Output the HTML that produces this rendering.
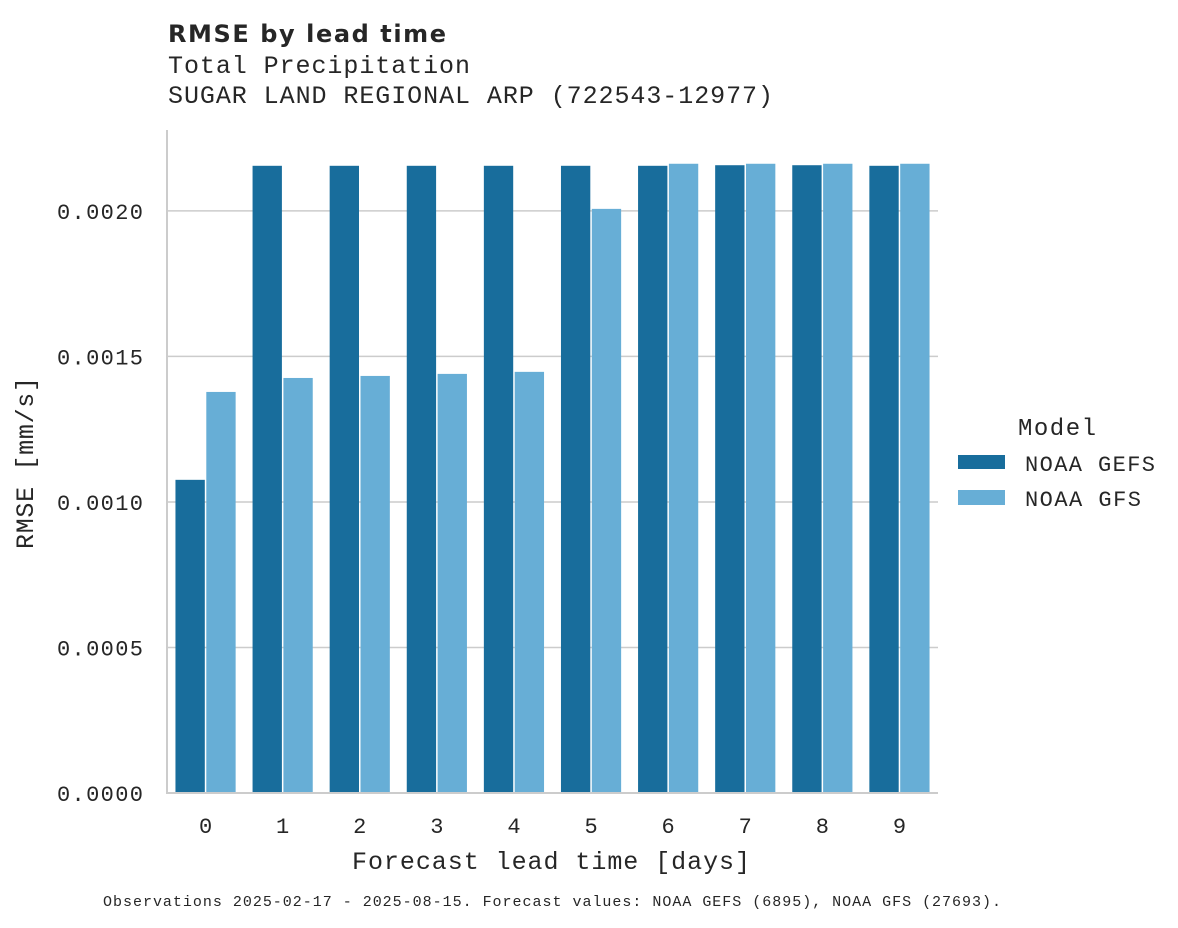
<!DOCTYPE html>
<html><head><meta charset="utf-8"><style>
body{margin:0;background:#fff}
svg{display:block}
text{font-family:"Liberation Mono",monospace;fill:#262626}
</style></head><body>
<svg width="1178" height="928" viewBox="0 0 1178 928">
<text x="168" y="42" style="font-family:'DejaVu Sans',sans-serif;font-weight:bold;font-size:24px" textLength="278">RMSE by lead time</text>
<text x="168" y="73" font-size="25" textLength="302">Total Precipitation</text>
<text x="168" y="103" font-size="25" textLength="605">SUGAR LAND REGIONAL ARP (722543-12977)</text>
<g id="grid"></g>
<g id="bars"></g>
<g id="axes"></g>
<text x="33" y="463" font-size="25" text-anchor="middle" transform="rotate(-90 33 463)" textLength="172">RMSE [mm/s]</text>
<text x="551" y="869" font-size="25" text-anchor="middle" textLength="398">Forecast lead time [days]</text>
<text x="552" y="906" font-size="15" text-anchor="middle" textLength="898">Observations 2025-02-17 - 2025-08-15. Forecast values: NOAA GEFS (6895), NOAA GFS (27693).</text>
<g>
<text x="1018" y="435" font-size="24" textLength="78">Model</text>
<rect x="958" y="455" width="47" height="14" fill="#186d9c"/>
<text x="1025" y="471" font-size="22" textLength="130">NOAA GEFS</text>
<rect x="958" y="490" width="47" height="15" fill="#67aed6"/>
<text x="1025" y="506" font-size="22" textLength="116">NOAA GFS</text>
</g>
</svg>
<script>
const categories=["0","1","2","3","4","5","6","7","8","9"];
const gefsValues=[0.001076,0.002155,0.002155,0.002155,0.002155,0.002155,0.002155,0.002157,0.002157,0.002155];
const gfsValues=[0.001378,0.001426,0.001433,0.00144,0.001447,0.002007,0.002162,0.002162,0.002162,0.002162];
const yTicks=[0,0.0005,0.001,0.0015,0.002];
const yTickLabels=["0.0000","0.0005","0.0010","0.0015","0.0020"];
const NS="http://www.w3.org/2000/svg";
const x0=167,x1=938,y0=793,yTop=130,yMax=0.002278;
function y(v){return y0-(v/yMax)*(y0-yTop);}
const step=(x1-x0)/categories.length;
function xc(i){return x0+step*(i+0.5);}
function mk(t,a,p){const e=document.createElementNS(NS,t);for(const k in a)e.setAttribute(k,a[k]);p.appendChild(e);return e;}
const grid=document.getElementById('grid'),bars=document.getElementById('bars'),axes=document.getElementById('axes');
yTicks.forEach((v,i)=>{
 if(v>0){const l=mk('line',{x1:x0,x2:x1,y1:y(v),y2:y(v),stroke:'#cccccc','stroke-width':1.5},grid);
 
 }
 const t=mk('text',{x:143,y:y(v)+8,'font-size':22,'text-anchor':'end',textLength:86},axes);
 t.textContent=yTickLabels[i];
 
 
});
const bw=step*0.8/2;
categories.forEach((c,i)=>{
 const left=xc(i)-bw;
 const b1=mk('rect',{x:left+0.75,y:y(gefsValues[i]),width:bw-1.5,height:y0-y(gefsValues[i]),fill:'#186d9c'},bars);
 
 
 const b2=mk('rect',{x:left+bw+0.75,y:y(gfsValues[i]),width:bw-1.5,height:y0-y(gfsValues[i]),fill:'#67aed6'},bars);
 
 
 const t=mk('text',{x:xc(i),y:833,'font-size':22,'text-anchor':'middle'},axes);
 t.textContent=c;
 
 
});
const ls=mk('line',{x1:x0,x2:x0,y1:yTop,y2:y0+1,stroke:'#cccccc','stroke-width':2},axes);


const bs=mk('line',{x1:x0-1,x2:x1,y1:y0,y2:y0,stroke:'#cccccc','stroke-width':2},axes);


</script>
</body></html>
